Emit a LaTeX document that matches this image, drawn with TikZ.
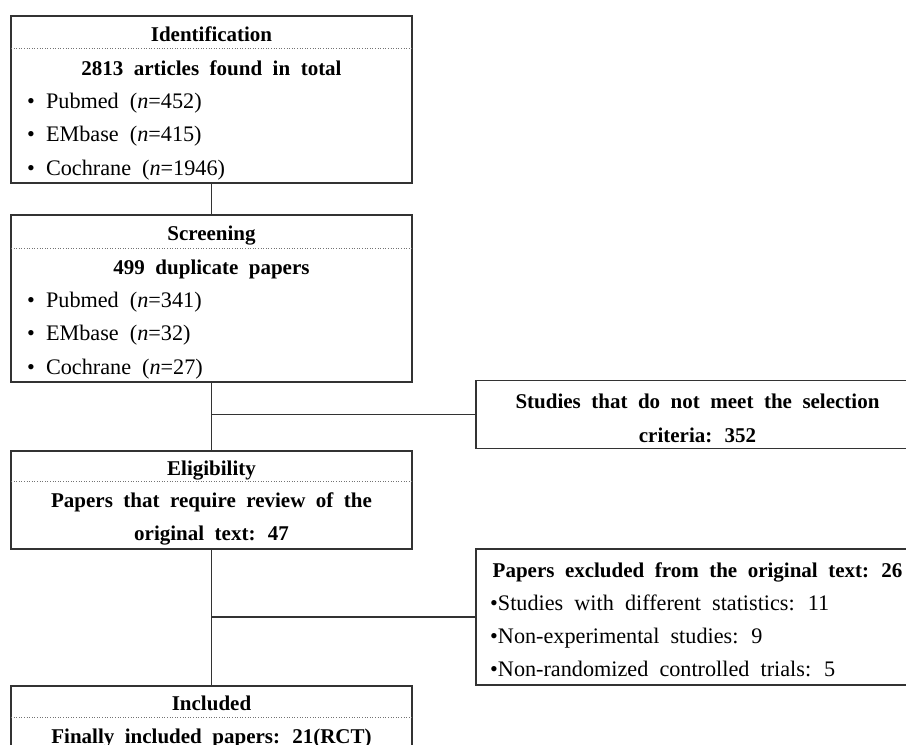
\documentclass[tikz,border=0pt]{standalone}
\usepackage{fontspec}
\setmainfont{Liberation Serif}[WordSpace={2,0,0}]
\tikzset{box/.style={draw=black!80,line width=1.2pt,inner sep=0pt,outer sep=0pt},
  sep/.style={draw=black!55,line width=0.9pt,dash pattern=on 1pt off 1.6pt},
  ln/.style={draw=black!80,line width=1.2pt},
  hd/.style={anchor=base,inner sep=0pt,font=\fontsize{21}{25}\selectfont\bfseries},
  itm/.style={anchor=base west,inner sep=0pt,font=\fontsize{22.2}{26}\selectfont}}

\begin{document}
\begin{tikzpicture}[x=1pt,y=-1pt]
\useasboundingbox (0,0) rectangle (906,745);
% left column
\node[box,minimum width=401pt,minimum height=167pt] (ident) at (211.5,99.5) {};
\node[box,minimum width=401pt,minimum height=167pt] (screen) at (211.5,298.5) {};
\node[box,minimum width=401pt,minimum height=98pt] (elig) at (211.5,500) {};
\node[box,minimum width=401pt,minimum height=90pt] (incl) at (211.5,731) {};
% right column
\node[box,minimum width=442pt,minimum height=68pt] (crit) at (697,414.5) {};
\node[box,minimum width=442pt,minimum height=136pt] (excl) at (697,617) {};

\draw[sep] ([yshift=-32pt]ident.north west) -- ([yshift=-32pt]ident.north east);
\draw[sep] ([yshift=-33pt]screen.north west) -- ([yshift=-33pt]screen.north east);
\draw[sep] ([yshift=-30pt]elig.north west) -- ([yshift=-30pt]elig.north east);
\draw[sep] ([yshift=-31pt]incl.north west) -- ([yshift=-31pt]incl.north east);

\node[hd] (t1) at (211.5,41) {Identification};
\node[hd] (t1a) at (211.5,75) {2813 articles found in total};
\node[itm] (t1b) at (27,108) {• Pubmed (\textit{n}=452)};
\node[itm] (t1c) at (27,141) {• EMbase (\textit{n}=415)};
\node[itm] (t1d) at (27,175) {• Cochrane (\textit{n}=1946)};

\node[hd] (t2) at (211.5,240) {Screening};
\node[hd] (t2a) at (211.5,274) {499 duplicate papers};
\node[itm] (t2b) at (27,307) {• Pubmed (\textit{n}=341)};
\node[itm] (t2c) at (27,340) {• EMbase (\textit{n}=32)};
\node[itm] (t2d) at (27,374) {• Cochrane (\textit{n}=27)};

\node[hd] (t3) at (211.5,475) {Eligibility};
\node[hd] (t3a) at (211.5,507) {Papers that require review of the};
\node[hd] (t3b) at (211.5,540) {original text: 47};

\node[hd] (t4) at (211.5,710) {Included};
\node[hd] (t4a) at (211.5,743) {Finally included papers: 21(RCT)};

\node[hd] (c1) at (697.5,408) {Studies that do not meet the selection};
\node[hd] (c1a) at (697.5,442) {criteria: 352};

\node[hd] (e1) at (697.5,577) {Papers excluded from the original text: 26};
\node[itm] (e1a) at (490,610) {•Studies with different statistics: 11};
\node[itm] (e1b) at (490,643) {•Non-experimental studies: 9};
\node[itm] (e1c) at (490,676) {•Non-randomized controlled trials: 5};

% connectors
\coordinate (j1) at (211.5,414.5);
\coordinate (j2) at (211.5,617);
\draw[ln] (ident.south) -- (screen.north);
\draw[ln] (screen.south) -- (elig.north);
\draw[ln] (elig.south) -- (incl.north);
\draw[ln] (j1) -- (crit.west);
\draw[ln] (j2) -- (excl.west);
\end{tikzpicture}
\end{document}
